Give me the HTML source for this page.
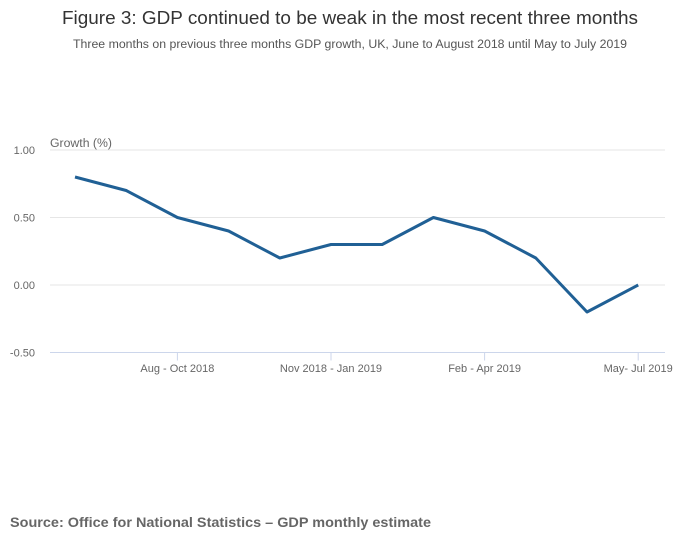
<!DOCTYPE html>
<html><head><meta charset="utf-8"><style>
body{margin:0;background:#fff;font-family:"Liberation Sans",sans-serif;}
svg text{font-family:"Liberation Sans",sans-serif;}
</style></head><body>
<svg width="700" height="549">
<text x="350" y="24" text-anchor="middle" font-size="18" fill="#333" textLength="576" lengthAdjust="spacingAndGlyphs">Figure 3: GDP continued to be weak in the most recent three months</text>
<text x="350" y="48" text-anchor="middle" font-size="11.5" fill="#555" textLength="554" lengthAdjust="spacingAndGlyphs">Three months on previous three months GDP growth, UK, June to August 2018 until May to July 2019</text>
<text x="50" y="147" font-size="11.5" fill="#666" textLength="62" lengthAdjust="spacingAndGlyphs">Growth (%)</text>
<g id="grid"></g><g id="xaxis"></g><g id="series"></g>
<text x="10" y="527" font-size="14" font-weight="bold" fill="#666" textLength="421" lengthAdjust="spacingAndGlyphs">Source: Office for National Statistics – GDP monthly estimate</text>
</svg>
<script>
const categories=["Jun - Aug 2018","Jul - Sep 2018","Aug - Oct 2018","Sep - Nov 2018","Oct - Dec 2018","Nov 2018 - Jan 2019","Dec 2018 - Feb 2019","Jan - Mar 2019","Feb - Apr 2019","Mar - May 2019","Apr - Jun 2019","May- Jul 2019"];
const growth=[0.8,0.7,0.5,0.4,0.2,0.3,0.3,0.5,0.4,0.2,-0.2,0.0];
const yTicks=[1.0,0.5,0.0,-0.5];
const yTickLabels=["1.00","0.50","0.00","-0.50"];
const xTickIndex=[2,5,8,11];
const NS="http://www.w3.org/2000/svg";
const x=i=>75+51.2*i;
const y=v=>285-v*135;
function mk(t,a,p){const e=document.createElementNS(NS,t);for(const k in a)e.setAttribute(k,a[k]);p.appendChild(e);return e;}
const grid=document.getElementById('grid');
yTicks.forEach((v,i)=>{
 const l=mk('line',{x1:50,x2:665,y1:y(v),y2:y(v),stroke:v===-0.5?'#ccd6eb':'#e6e6e6','stroke-width':1},grid);
 
 
 const t=mk('text',{x:35,y:y(v)+4,'text-anchor':'end','font-size':11,fill:'#666'},grid);
 t.textContent=yTickLabels[i];
 
 
});
const xa=document.getElementById('xaxis');
xTickIndex.forEach(i=>{
 const l=mk('line',{x1:x(i),x2:x(i),y1:y(-0.5),y2:y(-0.5)+8,stroke:'#ccd6eb'},xa);
 
 
 const t=mk('text',{x:x(i),y:372,'text-anchor':'middle','font-size':11,fill:'#666'},xa);
 t.textContent=categories[i];
 
 
});
const p=mk('polyline',{points:growth.map((v,i)=>x(i)+','+y(v)).join(' '),fill:'none',stroke:'#206095','stroke-width':3,'stroke-linejoin':'round'},document.getElementById('series'));


</script>
</body></html>
